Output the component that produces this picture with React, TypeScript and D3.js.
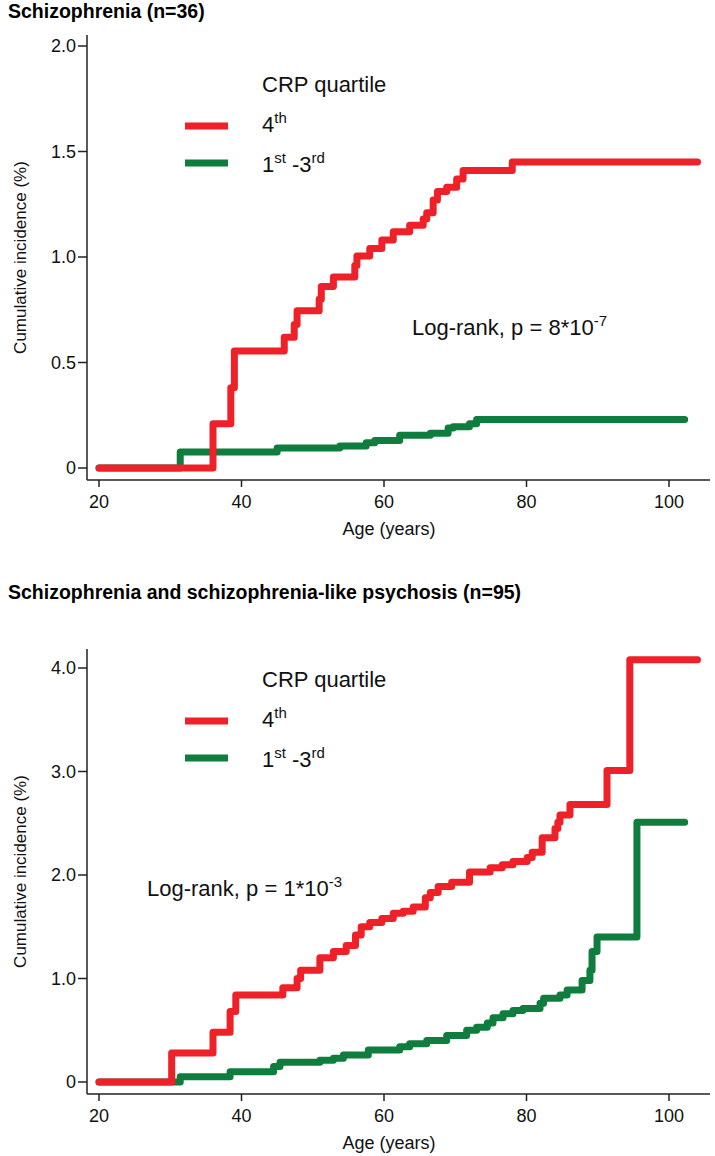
import React from "react";
import * as d3 from "d3";

// ---------- Data ----------
const xTicks = [20, 40, 60, 80, 100];

// Panel 1: Schizophrenia (n=36)
const p1Title = "Schizophrenia (n=36)";
const p1YTicks = [0, 0.5, 1.0, 1.5, 2.0];
const p1YTickLabels = ["0", "0.5", "1.0", "1.5", "2.0"];
const p1RedAge = [20, 36.0, 38.5, 39.0, 46.0, 47.4, 47.8, 50.9, 51.2, 52.9, 55.9, 56.2, 58.0, 59.7, 61.3, 63.6, 65.5, 66.0, 66.9, 67.5, 68.8, 70.2, 71.1, 78.0, 104];
const p1RedVal = [0, 0.21, 0.38, 0.555, 0.62, 0.68, 0.745, 0.80, 0.86, 0.905, 0.96, 1.005, 1.04, 1.08, 1.12, 1.15, 1.18, 1.21, 1.27, 1.31, 1.33, 1.37, 1.41, 1.45, 1.45];
const p1GreenAge = [20, 31.4, 45.0, 53.8, 57.5, 58.7, 62.2, 66.5, 69.0, 69.7, 72.0, 73.0, 102.2];
const p1GreenVal = [0, 0.076, 0.095, 0.104, 0.12, 0.13, 0.155, 0.165, 0.19, 0.195, 0.21, 0.23, 0.23];
const p1PValue = { mant: "8", exp: "-7" };

// Panel 2: Schizophrenia and schizophrenia-like psychosis (n=95)
const p2Title = "Schizophrenia and schizophrenia-like psychosis (n=95)";
const p2YTicks = [0, 1, 2, 3, 4];
const p2YTickLabels = ["0", "1.0", "2.0", "3.0", "4.0"];
const p2RedAge = [20, 30.2, 36.0, 38.4, 39.2, 45.8, 47.8, 48.3, 51.0, 52.9, 54.7, 56.0, 56.8, 58.0, 59.7, 61.3, 62.7, 64.1, 65.8, 66.5, 67.6, 69.5, 72.0, 74.9, 76.6, 78.1, 80.1, 80.8, 82.2, 84.0, 84.4, 84.7, 86.1, 91.3, 94.5, 104];
const p2RedVal = [0, 0.28, 0.48, 0.68, 0.84, 0.91, 1.0, 1.08, 1.20, 1.26, 1.32, 1.42, 1.50, 1.54, 1.58, 1.63, 1.65, 1.69, 1.78, 1.83, 1.89, 1.93, 2.03, 2.07, 2.10, 2.13, 2.17, 2.22, 2.36, 2.45, 2.51, 2.58, 2.68, 3.01, 4.08, 4.08];
const p2GreenAge = [20, 31.4, 38.4, 44.5, 45.4, 51.0, 52.9, 54.3, 57.8, 62.2, 63.6, 66.0, 68.8, 71.6, 73.0, 74.5, 75.3, 76.7, 78.1, 79.5, 81.9, 82.4, 84.7, 85.7, 87.8, 88.9, 89.2, 89.9, 95.5, 102.2];
const p2GreenVal = [0, 0.05, 0.10, 0.15, 0.19, 0.21, 0.23, 0.26, 0.31, 0.34, 0.37, 0.40, 0.45, 0.50, 0.53, 0.57, 0.62, 0.66, 0.69, 0.71, 0.76, 0.81, 0.84, 0.89, 0.98, 1.08, 1.26, 1.40, 2.51, 2.51];
const p2PValue = { mant: "1", exp: "-3" };

const RED = "#EE2128";
const GREEN = "#0F7D3D";
const FONT = "'Liberation Sans', Arial, Helvetica, sans-serif";
const AXIS = "#222";

type PanelProps = {
  top: number;
  title: string;
  titleY: number;
  yMax: number;
  yTicks: number[];
  yTickLabels: string[];
  redAge: number[]; redVal: number[];
  greenAge: number[]; greenVal: number[];
  pval: { mant: string; exp: string };
  pPos: [number, number];
  y0: number; yTop: number; axisTop: number; axisBottom: number;
  legendY: number;
};

function Panel(p: PanelProps) {
  const x = d3.scaleLinear().domain([20, 100]).range([99, 669]);
  const y = d3.scaleLinear().domain([0, p.yMax]).range([p.y0, p.yTop]);
  const line = d3.line<[number, number]>()
    .x(d => x(d[0]))
    .y(d => y(d[1]))
    .curve(d3.curveStepAfter);
  const red: [number, number][] = p.redAge.map((a, i) => [a, p.redVal[i]]);
  const green: [number, number][] = p.greenAge.map((a, i) => [a, p.greenVal[i]]);
  const axisLeft = 87;
  const axisRight = 710;
  const midY = (p.axisTop + p.axisBottom) / 2;
  return (
    <g transform={`translate(0,${p.top})`} fontFamily={FONT}>
      <text x={8} y={p.titleY} fontSize={19.5} fontWeight="bold" fill="#000">{p.title}</text>
      <line x1={axisLeft} x2={axisLeft} y1={p.axisTop} y2={p.axisBottom} stroke={AXIS} strokeWidth={1.5} />
      <line x1={axisLeft} x2={axisRight} y1={p.axisBottom} y2={p.axisBottom} stroke={AXIS} strokeWidth={1.5} />
      {p.yTicks.map((t, i) => (
        <g key={"y" + t}>
          <line x1={axisLeft - 9} x2={axisLeft} y1={y(t)} y2={y(t)} stroke={AXIS} strokeWidth={1.5} />
          <text x={axisLeft - 11} y={y(t)} dy="0.36em" textAnchor="end" fontSize={18} fill="#111">{p.yTickLabels[i]}</text>
        </g>
      ))}
      {xTicks.map(t => (
        <g key={"x" + t}>
          <line x1={x(t)} x2={x(t)} y1={p.axisBottom} y2={p.axisBottom + 7} stroke={AXIS} strokeWidth={1.5} />
          <text x={x(t)} y={p.axisBottom + 28} textAnchor="middle" fontSize={18} fill="#111">{t}</text>
        </g>
      ))}
      <text x={389} y={p.axisBottom + 55} textAnchor="middle" fontSize={18} fill="#111">Age (years)</text>
      <text transform={`translate(26,${midY}) rotate(-90)`} textAnchor="middle" fontSize={17} fill="#111">Cumulative incidence (%)</text>
      <path d={line(green) || ""} fill="none" stroke={GREEN} strokeWidth={7} strokeLinejoin="round" strokeLinecap="round" />
      <path d={line(red) || ""} fill="none" stroke={RED} strokeWidth={7} strokeLinejoin="round" strokeLinecap="round" />
      <text x={262} y={p.legendY} fontSize={22} fill="#111">CRP quartile</text>
      <line x1={185} x2={228} y1={p.legendY + 34} y2={p.legendY + 34} stroke={RED} strokeWidth={7} />
      <text x={262} y={p.legendY + 40} fontSize={22} fill="#111">4<tspan fontSize={15} dy={-9}>th</tspan></text>
      <line x1={185} x2={228} y1={p.legendY + 71} y2={p.legendY + 71} stroke={GREEN} strokeWidth={7} />
      <text x={262} y={p.legendY + 80} fontSize={22} fill="#111">
        1<tspan fontSize={15} dy={-9}>st</tspan><tspan dy={9}> -3</tspan><tspan fontSize={15} dy={-9}>rd</tspan>
      </text>
      <text x={p.pPos[0]} y={p.pPos[1]} fontSize={22} fill="#111">
        Log-rank, p = {p.pval.mant}*10<tspan fontSize={15} dy={-9}>{p.pval.exp}</tspan>
      </text>
    </g>
  );
}

export default function App() {
  return (
    <svg width={715} height={1156} style={{ position: "absolute", left: 0, top: 0, background: "#fff" }}>
      <rect width={715} height={1156} fill="#fff" />
      <Panel top={0} title={p1Title} titleY={18} yMax={2} yTicks={p1YTicks} yTickLabels={p1YTickLabels}
        redAge={p1RedAge} redVal={p1RedVal} greenAge={p1GreenAge} greenVal={p1GreenVal}
        pval={p1PValue} pPos={[412, 335]} y0={468} yTop={46} axisTop={35} axisBottom={480} legendY={92} />
      <Panel top={598} title={p2Title} titleY={1} yMax={4} yTicks={p2YTicks} yTickLabels={p2YTickLabels}
        redAge={p2RedAge} redVal={p2RedVal} greenAge={p2GreenAge} greenVal={p2GreenVal}
        pval={p2PValue} pPos={[147, 896 - 598]} y0={1082 - 598} yTop={668 - 598} axisTop={649 - 598} axisBottom={1094 - 598} legendY={687 - 598} />
    </svg>
  );
}
